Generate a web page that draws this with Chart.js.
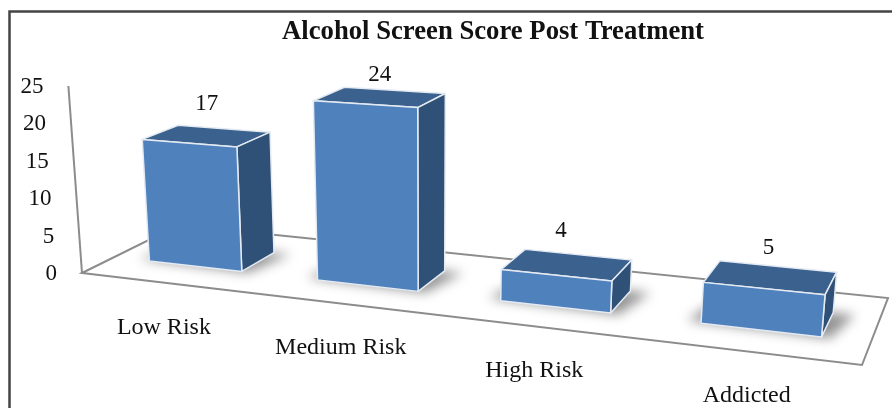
<!DOCTYPE html>
<html>
<head>
<meta charset="utf-8">
<style>
  body { margin: 0; background: #fff; overflow: hidden; }
  canvas { display: block; filter: blur(0.5px); }
</style>
<script src="https://cdn.jsdelivr.net/npm/chart.js@4"></script>
</head>
<body>
<canvas id="riskChart" width="892" height="408"></canvas>
<script>
const categories = ['Low Risk', 'Medium Risk', 'High Risk', 'Addicted'];
const scores = [17, 24, 4, 5];
const yTicks = [0, 5, 10, 15, 20, 25];

// floor of the 3d box on the page: front left, front right, back right, back left
const floor = [[82, 273], [862, 365], [888, 298], [179, 225]];
const wallHeight = 187;
const barFront = 0.31, barBack = 0.68;
// nudges for the value labels above the bars
const valueNudge = [[0, -32], [0, -22], [-6, -34], [-2, -29]];
const tickFont = '23px "Liberation Serif"';
const categoryFont = '24px "Liberation Serif"';

// unit square -> floor quad
const [p0, p1, p2, p3] = floor;
const sx = p0[0] - p1[0] + p2[0] - p3[0], sy = p0[1] - p1[1] + p2[1] - p3[1];
const dx1 = p1[0] - p2[0], dx2 = p3[0] - p2[0], dy1 = p1[1] - p2[1], dy2 = p3[1] - p2[1];
const den = dx1 * dy2 - dx2 * dy1;
const g = (sx * dy2 - dx2 * sy) / den, h = (dx1 * sy - sx * dy1) / den;

function onFloor(u, w) {
    const d = g * u + h * w + 1;
    return [
        ((p1[0] - p0[0] + g * p1[0]) * u + (p3[0] - p0[0] + h * p3[0]) * w + p0[0]) / d,
        ((p1[1] - p0[1] + g * p1[1]) * u + (p3[1] - p0[1] + h * p3[1]) * w + p0[1]) / d
    ];
}

// chart pixel + depth -> page position, verticals lean in towards the middle
function project(chart, px, py, w, isBar) {
    const area = chart.chartArea;
    const [x, y] = onFloor((px - area.left) / area.width, w);
    let rise = (area.bottom - py) / area.height * wallHeight;
    // bars get taller to the right and shorter towards the back
    if (isBar) rise *= (0.968 + 0.00025 * (x - 195)) * (1 - 0.11 * (w - barFront));
    return [x - (0.09 - 0.00021 * x) * rise, y - rise];
}

function poly(ctx, pts, fill, stroke) {
    ctx.beginPath();
    pts.forEach((p, i) => i ? ctx.lineTo(p[0], p[1]) : ctx.moveTo(p[0], p[1]));
    ctx.closePath();
    if (fill) { ctx.fillStyle = fill; ctx.fill(); }
    if (stroke) { ctx.strokeStyle = stroke; ctx.stroke(); }
}

const box3d = {
    id: 'box3d',
    beforeDatasetsDraw(chart) {
        const ctx = chart.ctx, area = chart.chartArea, yScale = chart.scales.y;
        ctx.save();
        // outer frame, runs off the right and bottom of the picture
        ctx.strokeStyle = '#444';
        ctx.lineWidth = 2.5;
        ctx.strokeRect(9.5, 11.5, 900, 420);
        // floor and value axis
        ctx.lineWidth = 2;
        ctx.strokeStyle = '#8c8c8c';
        poly(ctx, floor, null, '#8c8c8c');
        const top = project(chart, area.left, yScale.getPixelForValue(25), 0);
        ctx.beginPath();
        ctx.moveTo(top[0], top[1]);
        ctx.lineTo(floor[0][0], floor[0][1]);
        ctx.stroke();
        // value axis labels
        ctx.font = tickFont;
        ctx.fillStyle = '#111';
        ctx.textAlign = 'right';
        ctx.textBaseline = 'middle';
        yTicks.forEach(v => {
            const p = project(chart, area.left, yScale.getPixelForValue(v), 0);
            ctx.fillText(String(v), p[0] - 25, p[1] + 1);
        });
        // category labels
        ctx.font = categoryFont;
        ctx.textAlign = 'center';
        categories.forEach((name, i) => {
            const px = chart.scales.x.getPixelForValue(i);
            const p = onFloor((px - area.left) / area.width, 0);
            ctx.fillText(name, p[0] - 1, p[1] + 44.5);
        });
        ctx.restore();
    },
    beforeDatasetDraw(chart, args) {
        const ctx = chart.ctx;
        ctx.save();
        args.meta.data.forEach((bar, i) => {
            const l = bar.x - bar.width / 2, r = bar.x + bar.width / 2;
            const at = (px, py, w) => project(chart, px, py, w, true);
            // soft shadow on the floor
            ctx.save();
            ctx.filter = 'blur(6px)';
            poly(ctx, [at(l - 14, bar.base, barFront + 0.02), at(r + 8, bar.base, barFront - 0.01), at(r + 20, bar.base, barBack), at(l, bar.base, barBack)], 'rgba(0,0,0,0.42)');
            ctx.restore();
            ctx.lineWidth = 1.5;
            ctx.lineJoin = 'round';
            poly(ctx, [at(l, bar.y, barBack), at(r, bar.y, barBack), at(r, bar.y, barFront), at(l, bar.y, barFront)], '#3B618F', '#e4eaf2');
            poly(ctx, [at(r, bar.y, barFront), at(r, bar.y, barBack), at(r, bar.base, barBack), at(r, bar.base, barFront)], '#2F5077', '#e4eaf2');
            poly(ctx, [at(l, bar.y, barFront), at(r, bar.y, barFront), at(r, bar.base, barFront), at(l, bar.base, barFront)], '#4F81BD', '#e4eaf2');
            // value above the bar
            const c = at(bar.x, bar.y, (barFront + barBack) / 2);
            ctx.font = tickFont;
            ctx.fillStyle = '#111';
            ctx.textAlign = 'center';
            ctx.textBaseline = 'middle';
            ctx.fillText(String(scores[i]), c[0] + valueNudge[i][0], c[1] + valueNudge[i][1]);
        });
        ctx.restore();
        return false;
    }
};

new Chart(document.getElementById('riskChart').getContext('2d'), {
    type: 'bar',
    data: {
        labels: categories,
        datasets: [{ label: 'Alcohol Screen Score', data: scores, backgroundColor: '#4F81BD', barPercentage: 0.56, categoryPercentage: 1 }]
    },
    options: {
        responsive: false,
        animation: false,
        layout: { padding: { left: 94, right: 0, top: 16, bottom: 10 } },
        scales: {
            x: { display: true, grid: { display: false }, border: { display: false }, ticks: { display: false } },
            y: { min: 0, max: 25, grid: { display: false }, border: { display: false }, ticks: { display: false, stepSize: 5 } }
        },
        plugins: {
            legend: { display: false },
            tooltip: { enabled: false },
            title: {
                display: true,
                text: 'Alcohol Screen Score Post Treatment',
                color: '#111',
                font: { family: '"Liberation Serif"', size: 26.7, weight: 'bold' },
                padding: { top: 0, bottom: 10 }
            }
        }
    },
    plugins: [box3d]
});
</script>
</body>
</html>
